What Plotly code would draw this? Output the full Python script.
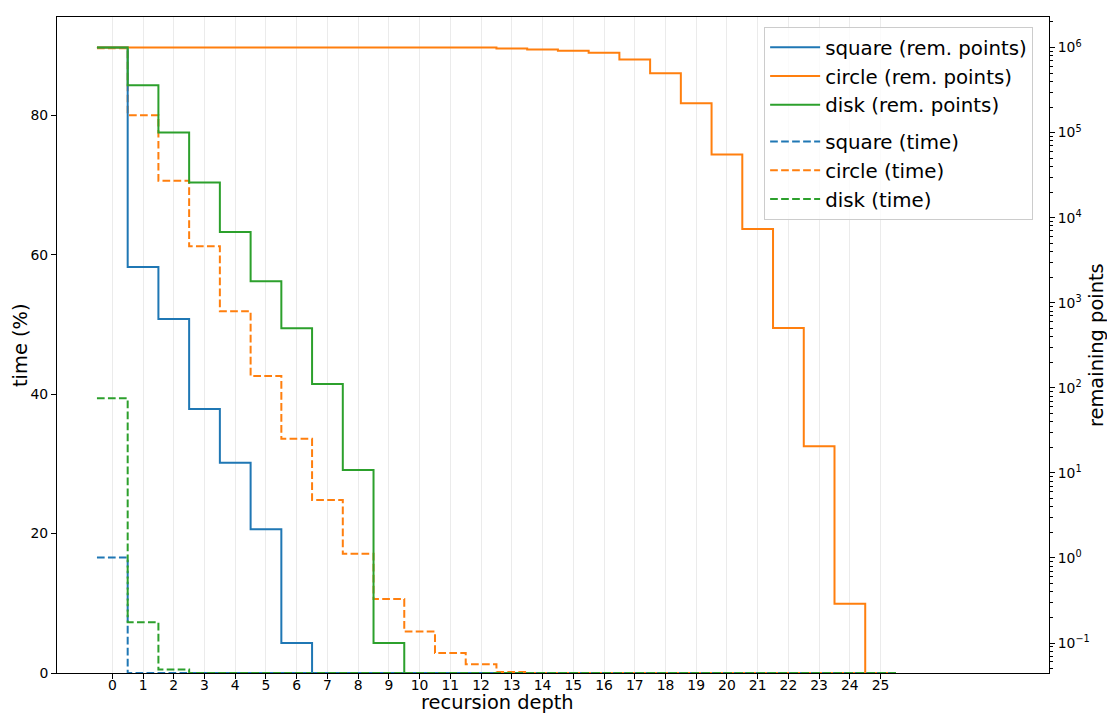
import plotly.graph_objects as go

# ---------------- data ----------------
depth = [0, 1, 2, 3, 4, 5, 6, 7, 8, 9, 10, 11, 12, 13, 14, 15, 16, 17, 18, 19, 20, 21, 22, 23, 24, 25]

square_points = [1000000, 2630, 644, 56.5, 13.2, 2.18, 0.1, 0, 0, 0, 0, 0, 0,
                 0, 0, 0, 0, 0, 0, 0, 0, 0, 0, 0, 0, 0]
circle_points = [1000000, 1000000, 1000000, 1000000, 1000000, 1000000, 1000000,
                 1000000, 1000000, 1000000, 1000000, 1000000, 1000000,
                 973000, 947000, 915000, 866000, 723000, 500000, 222000,
                 55400, 7360, 506, 20.6, 0.29, 0]
disk_points = [1000000, 360600, 100300, 25900, 6770, 1786, 501, 111, 10.8, 0.1,
               0, 0, 0, 0, 0, 0, 0, 0, 0, 0, 0, 0, 0, 0, 0, 0]

square_time = [16.56, 0, 0, 0, 0, 0, 0, 0, 0, 0, 0, 0, 0,
               0, 0, 0, 0, 0, 0, 0, 0, 0, 0, 0, 0, 0]
circle_time = [89.6, 80.0, 70.6, 61.2, 51.9, 42.6, 33.6, 24.8, 17.1, 10.6, 5.94, 2.87, 1.25,
               0.15, 0, 0, 0, 0, 0, 0, 0, 0, 0, 0, 0, 0]
disk_time = [39.4, 7.27, 0.49, 0, 0, 0, 0, 0, 0, 0, 0, 0, 0,
             0, 0, 0, 0, 0, 0, 0, 0, 0, 0, 0, 0, 0]

shape_names = ["square", "circle", "disk"]
colors = ["#1f77b4", "#ff7f0e", "#2ca02c"]
right_tick_exps = [-1, 0, 1, 2, 3, 4, 5, 6]
left_ticks = [0, 20, 40, 60, 80]

x_title = "recursion depth"
y_title = "time (%)"
y2_title = "remaining points"

# ---------------- helpers ----------------
def step_xy(values):
    """matplotlib step(where='mid') equivalent using bin edges and 'hv' shape"""
    xs = [d - 0.5 for d in depth] + [depth[-1] + 0.5]
    ys = list(values) + [values[-1]]
    return xs, ys

def clip_log(values, floor=1e-6):
    return [v if v > 0 else floor for v in values]

fig = go.Figure()

FONT = "DejaVu Sans"
LW = 2
DASH = "7.7px,3.3px"

# remaining points (solid, right log axis)
for name, col, vals in zip(shape_names, colors, [square_points, circle_points, disk_points]):
    xs, ys = step_xy(clip_log(vals))
    fig.add_trace(go.Scatter(
        x=xs, y=ys, mode="lines", line=dict(color=col, width=LW, shape="hv"),
        name=f"{name} (rem. points)", yaxis="y2", legendgroup="rem",
    ))

# time (dashed, left linear axis)
for name, col, vals in zip(shape_names, colors, [square_time, circle_time, disk_time]):
    xs, ys = step_xy(vals)
    fig.add_trace(go.Scatter(
        x=xs, y=ys, mode="lines", line=dict(color=col, width=LW, shape="hv", dash=DASH),
        name=f"{name} (time)", yaxis="y", legendgroup="time",
    ))

minor_vals = [k * 10 ** e for e in range(-2, 7) for k in range(2, 10)]

fig.update_layout(
    template="none",
    width=1107, height=715,
    margin=dict(l=57, r=58, t=17, b=42, pad=0),
    paper_bgcolor="white", plot_bgcolor="white",
    font=dict(family=FONT, color="black", size=14),
    xaxis=dict(
        range=[-1.80, 30.48], tickmode="array", tickvals=depth,
        ticks="outside", ticklen=5, tickwidth=1, tickcolor="black",
        ticklabelstandoff=-6,
        showgrid=True, gridcolor="#ebebeb", gridwidth=1,
        showline=True, linecolor="black", linewidth=1, mirror=True,
        zeroline=False, automargin=False,
        tickfont=dict(size=13.9, family=FONT),
    ),
    yaxis=dict(
        range=[0, 94.1], tickmode="array", tickvals=left_ticks,
        ticks="outside", ticklen=5, tickwidth=1, tickcolor="black",
        showgrid=False, zeroline=False,
        showline=True, linecolor="black", linewidth=1,
        automargin=False,
        tickfont=dict(size=13.9, family=FONT),
    ),
    yaxis2=dict(
        type="log", range=[-1.352, 6.359], overlaying="y", side="right", anchor="x",
        tickmode="array", tickvals=[10 ** e for e in right_tick_exps],
        ticktext=[f"10<sup>{'\u2212' if e < 0 else ''}{abs(e)}</sup>" for e in right_tick_exps],
        ticks="outside", ticklen=5, tickwidth=1, tickcolor="black",
        minor=dict(tickmode="array", tickvals=minor_vals, ticks="outside", ticklen=3,
                   tickwidth=0.8, tickcolor="black", showgrid=False),
        showgrid=False, zeroline=False,
        showline=True, linecolor="black", linewidth=1,
        automargin=False,
        tickfont=dict(size=13.9, family=FONT),
    ),
    legend=dict(
        x=0.984, y=0.985, xanchor="right", yanchor="top",
        bgcolor="rgba(255,255,255,0.8)", bordercolor="#cccccc", borderwidth=1,
        font=dict(size=19.8, family=FONT, color="black"),
        traceorder="grouped", tracegroupgap=8, itemwidth=50,
    ),
    showlegend=True,
    annotations=[
        dict(text=x_title, xref="paper", yref="paper", x=0.4437, y=0, yshift=-29.5,
             xanchor="center", yanchor="middle", showarrow=False, borderpad=0,
             font=dict(size=19.4, family=FONT, color="black")),
        dict(text=y_title, xref="paper", yref="paper", x=0, y=0.5, xshift=-37,
             xanchor="center", yanchor="middle", showarrow=False, textangle=-90,
             font=dict(size=19.4, family=FONT, color="black")),
        dict(text=y2_title, xref="paper", yref="paper", x=1, y=0.5, xshift=47,
             xanchor="center", yanchor="middle", showarrow=False, textangle=-90,
             font=dict(size=19.4, family=FONT, color="black")),
    ],
)

fig.write_html("out.html", config={"displayModeBar": False},
               post_script="document.body.style.margin='0px';document.body.style.overflow='hidden';")
